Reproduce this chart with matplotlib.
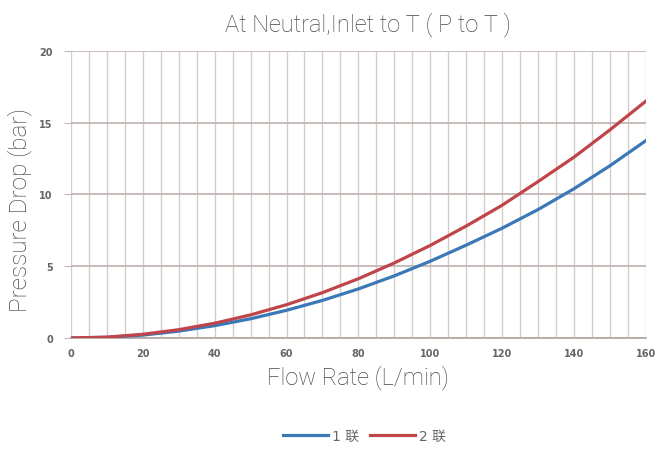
import numpy as np
import matplotlib
matplotlib.use("Agg")
import matplotlib.pyplot as plt

plt.rcParams['font.family'] = ['DejaVu Sans', 'Noto Sans CJK SC']

# flow rate (L/min) and pressure drop (bar)
flow = [0, 10, 20, 30, 40, 50, 60, 70, 80, 90, 100, 110, 120, 130, 140, 150, 160]
drop_1 = [0, 0.05, 0.2, 0.48, 0.86, 1.34, 1.93, 2.62, 3.42, 4.33, 5.35, 6.47, 7.65, 8.95, 10.4, 12.0, 13.75]
drop_2 = [0, 0.06, 0.26, 0.58, 1.03, 1.61, 2.32, 3.16, 4.13, 5.23, 6.45, 7.8, 9.25, 10.9, 12.6, 14.5, 16.5]
labels = ["1 联", "2 联"]

fig = plt.figure(figsize=(6.57, 4.52), dpi=100)
ax = fig.add_axes([0.108, 0.25, 0.875, 0.635])

ax.plot(flow, drop_1, color="#3a78b8", lw=2.3, label=labels[0], zorder=3)
ax.plot(flow, drop_2, color="#c0454a", lw=2.3, label=labels[1], zorder=3)

ax.set_xlim(0, 160)
ax.set_ylim(0, 20)
ax.set_xticks(range(0, 161, 20))
ax.set_yticks(range(0, 21, 5))
ax.set_xticks(range(0, 161, 5), minor=True)
ax.grid(which="minor", axis="x", color="#d3cbc8", lw=1.0)
ax.grid(which="major", axis="x", color="#d3cbc8", lw=1.0)
ax.grid(which="major", axis="y", color="#c4b8b5", lw=1.3)
ax.tick_params(axis="both", which="both", length=0, labelsize=7, labelcolor="#666666", pad=7)
ax.tick_params(axis="y", which="major", length=5, color="#c4b8b5", pad=8)
for lab in ax.get_xticklabels() + ax.get_yticklabels():
    lab.set_fontweight("bold")
for s in ["top", "right", "left"]:
    ax.spines[s].set_visible(False)
ax.spines["bottom"].set_color("#b5a8a5")
ax.spines["bottom"].set_linewidth(1.3)

thin = dict(family=["Roboto", "DejaVu Sans"], weight="light", color="#474747")
ax.set_title("At Neutral,Inlet to T ( P to T )", fontsize=17, pad=15, x=0.516, **thin)
ax.set_xlabel("Flow Rate (L/min)", fontsize=17, labelpad=5, **thin)
ax.set_ylabel("Pressure Drop (bar)", fontsize=17.5, **thin)
ax.yaxis.set_label_coords(-0.068, 0.45)

fig.legend(loc="lower center", bbox_to_anchor=(0.555, -0.01), ncol=2, frameon=False,
           fontsize=10, labelcolor="#666666", handlelength=3.2, handletextpad=0.3, columnspacing=0.8)

fig.savefig("out.png", dpi=100)
